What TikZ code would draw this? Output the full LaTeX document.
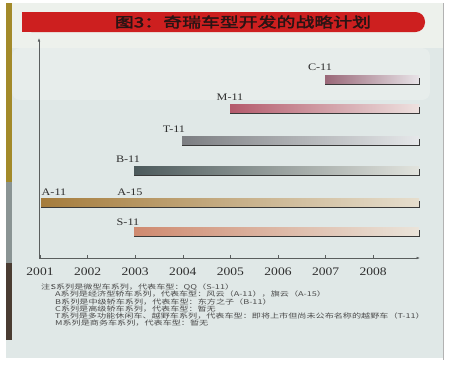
\documentclass[tikz,border=0pt]{standalone}
\usepackage{fontspec}
\usetikzlibrary{arrows.meta}
\newfontfamily\cjknote[FakeStretch=1.38]{Noto Sans CJK SC}
\newfontfamily\cjktitle[FakeStretch=1.35,FakeBold=2.5]{Noto Sans CJK SC}
\newfontfamily\serifyear[FakeStretch=1.18]{Liberation Serif}
\newfontfamily\seriflab[FakeStretch=1.22]{Liberation Serif}
\definecolor{pagebg}{HTML}{E0E8E7}
\definecolor{topbg}{HTML}{EDF1EC}
\definecolor{panelbg}{HTML}{E7EDEB}
\definecolor{titlered}{HTML}{CD1F1F}
\definecolor{titletext}{HTML}{2A1414}
\definecolor{axisgray}{HTML}{5A5E5E}
\definecolor{notegray}{HTML}{4A4A4A}
\definecolor{labelgray}{HTML}{2E2E2E}
\definecolor{barline}{HTML}{3A3A3A}
\definecolor{stripgold}{HTML}{A38A2A}
\definecolor{stripgray}{HTML}{8A9494}
\definecolor{stripbrown}{HTML}{4A3C32}
\tikzset{
  barbox/.style={rectangle, inner sep=0pt, minimum height=8pt, anchor=south west, shading=axis, shading angle=90},
  barrule/.style={draw=barline, line width=0.8pt},
  barlabel/.style={inner sep=0pt, text=labelgray, font=\seriflab\fontsize{10}{10}\selectfont},
  yearlabel/.style={inner sep=0pt, text=labelgray, font=\serifyear\fontsize{11.5}{11.5}\selectfont},
  noteline/.style={inner sep=0pt, anchor=west, text=notegray, font=\cjknote\fontsize{6.6}{7.2}\selectfont},
  axisline/.style={draw=axisgray, line width=0.6pt},
  titletxt/.style={inner sep=0pt, text=titletext, font=\cjktitle\fontsize{14}{14}\selectfont},
}
\begin{document}
\begin{tikzpicture}[x=1pt,y=-1pt]
\useasboundingbox (0,0) rectangle (451,365);
% page
\fill[white] (0,0) rectangle (451,365);
\fill[pagebg] (6,3) rectangle (443,358);
\fill[topbg] (12,3) rectangle (443,48);
\fill[panelbg, rounded corners=8pt] (12,48) rectangle (430,100);
\fill[stripgold] (6,3) rectangle (12,182);
\fill[stripgray] (6,182) rectangle (12,263);
\fill[stripbrown] (6,263) rectangle (12,340);
\draw[gray!60, line width=0.6pt] (443,3) -- (443,360);
% title bar
\fill[titlered, rounded corners=9.5pt] (22,12) rectangle (425,32);
\fill[titlered] (22,12) rectangle (50,32);
\node[titletxt] (title) at (243,22) {图3：奇瑞车型开发的战略计划};
% axes
\coordinate (O) at (39,258);
\coordinate (ytop) at (39,38);
\coordinate (xend) at (420,258);
\draw[axisline, -{Latex[length=3.5pt,width=2.6pt]}] (O) -- (ytop);
\draw[axisline, -{Latex[length=3.5pt,width=2.6pt]}] (O) -- (xend);
\foreach \i/\yr in {0/2001,1/2002,2/2003,3/2004,4/2005,5/2006,6/2007,7/2008}{
  \coordinate (t\yr) at ({40+47.6*\i},258);
  \draw[axisline] (t\yr) -- ++(0,-3);
  \node[yearlabel] (y\yr) at ({40+47.6*\i},272) {\yr};
}
% bars
\node[barbox, minimum width=94pt, left color={rgb,255:red,154;green,104;blue,120}, middle color={rgb,255:red,200;green,168;blue,180}, right color={rgb,255:red,232;green,228;blue,232}] (barC) at (325,84) {};
\node[barbox, minimum width=189pt, left color={rgb,255:red,180;green,90;blue,108}, middle color={rgb,255:red,220;green,162;blue,144}, right color={rgb,255:red,238;green,226;blue,224}] (barM) at (230,113) {};
\node[barbox, minimum width=237pt, left color={rgb,255:red,124;green,126;blue,130}, middle color={rgb,255:red,180;green,182;blue,184}, right color={rgb,255:red,230;green,232;blue,234}] (barT) at (182,145) {};
\node[barbox, minimum width=285pt, left color={rgb,255:red,76;green,90;blue,92}, middle color={rgb,255:red,168;green,168;blue,154}, right color={rgb,255:red,226;green,228;blue,222}] (barB) at (134,175) {};
\node[barbox, minimum width=378pt, left color={rgb,255:red,165;green,124;blue,60}, middle color={rgb,255:red,210;green,174;blue,128}, right color={rgb,255:red,230;green,222;blue,206}] (barA) at (41,207) {};
\node[barbox, minimum width=285pt, left color={rgb,255:red,207;green,138;blue,112}, middle color={rgb,255:red,226;green,194;blue,162}, right color={rgb,255:red,234;green,228;blue,218}] (barS) at (134,236) {};
\foreach \b in {C,M,T,B,A,S}{
  \draw[barrule] (bar\b.south west) -- (bar\b.south east) -- ++(0,-6.5);
}
% bar labels
\node[barlabel] (labC) at (320,67) {C-11};
\node[barlabel] (labM) at (230,97) {M-11};
\node[barlabel] (labT) at (174,129) {T-11};
\node[barlabel] (labB) at (128,159) {B-11};
\node[barlabel] (labA11) at (54,192) {A-11};
\node[barlabel] (labA15) at (130,192) {A-15};
\node[barlabel] (labS) at (128,222) {S-11};
% notes
\node[noteline] (nz) at (41,287) {注：};
\node[noteline] (n1) at (50.5,287) {S系列是微型车系列，代表车型：QQ（S-11）};
\node[noteline] (n2) at (55,294.3) {A系列是经济型轿车系列，代表车型：风云（A-11），旗云（A-15）};
\node[noteline] (n3) at (55,301.6) {B系列是中级轿车系列，代表车型：东方之子（B-11）};
\node[noteline] (n4) at (55,308.9) {C系列是高级轿车系列，代表车型：暂无};
\node[noteline] (n5) at (55,316.2) {T系列是多功能休闲车、越野车系列，代表车型：即将上市但尚未公布名称的越野车（T-11）};
\node[noteline] (n6) at (55,323.5) {M系列是商务车系列，代表车型：暂无};
\end{tikzpicture}
\end{document}
